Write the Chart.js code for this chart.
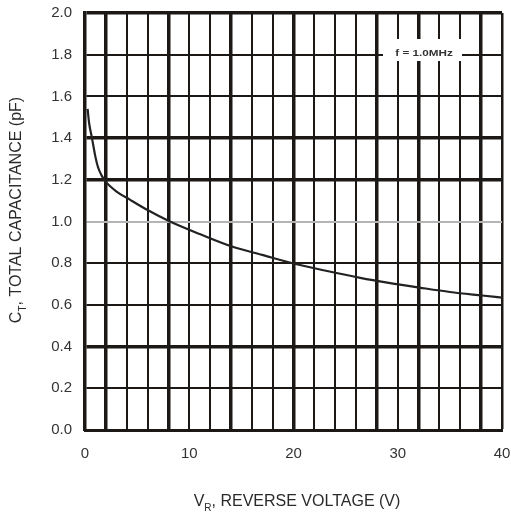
<!DOCTYPE html>
<html>
<head>
<meta charset="utf-8">
<script src="https://cdn.jsdelivr.net/npm/chart.js@4/dist/chart.umd.min.js"></script>
<style>
  html, body { margin: 0; padding: 0; background: #fff; }
  #wrap { width: 511px; height: 515px; position: relative; }
</style>
</head>
<body>
<div id="wrap"><canvas id="cap-chart"></canvas></div>
<script>
// reverse voltage (V) and total capacitance (pF)
const voltage = [0.25, 0.4, 0.67, 1.0, 1.25, 1.6, 2, 3, 4.3, 6, 8.15, 11, 14.1, 17, 19.9, 23, 26.4, 29, 32.1, 35, 38.1, 40];
const capacitance = [1.54, 1.47, 1.40, 1.31, 1.26, 1.22, 1.19, 1.145, 1.105, 1.055, 1.0, 0.94, 0.88, 0.84, 0.80, 0.765, 0.73, 0.707, 0.683, 0.662, 0.645, 0.635];

const xLabels = [0, 10, 20, 30, 40];
const xHeavy = [2, 8, 14, 20, 28, 32, 38];
const yHeavy = [2.0, 1.4, 1.2, 0.4];
const yGray = 1.0;
const noteText = "f = 1.0MHz";

const INK = "#1c1816";
const FONT = "'Liberation Sans', Arial, sans-serif";

function drawSub(ctx, parts) {
  // parts: [text, isSub]
  let w = 0;
  parts.forEach(([t, sub]) => {
    ctx.font = (sub ? "10px " : "16px ") + FONT;
    w += ctx.measureText(t).width;
  });
  let x = -w / 2;
  parts.forEach(([t, sub]) => {
    ctx.font = (sub ? "10px " : "16px ") + FONT;
    ctx.fillText(t, x, sub ? 6 : 0);
    x += ctx.measureText(t).width;
  });
}

const extras = {
  id: "extras",
  afterDatasetsDraw(chart) {
    const ctx = chart.ctx;
    ctx.save();
    // note box on the grid
    ctx.fillStyle = "#fff";
    ctx.fillRect(383, 39, 79, 22);
    ctx.fillStyle = "#333";
    ctx.textBaseline = "middle";
    ctx.textAlign = "center";
    ctx.translate(424, 54);
    ctx.scale(1.3, 1);
    ctx.font = "bold 9px " + FONT;
    ctx.fillText(noteText, 0, 0);
    ctx.restore();

    ctx.save();
    ctx.fillStyle = "#2a2a2a";
    ctx.textBaseline = "middle";
    ctx.textAlign = "left";
    ctx.translate(297, 502);
    drawSub(ctx, [["V", false], ["R", true], [", REVERSE VOLTAGE (V)", false]]);
    ctx.restore();

    ctx.save();
    ctx.fillStyle = "#2a2a2a";
    ctx.textBaseline = "middle";
    ctx.textAlign = "left";
    ctx.translate(17, 210);
    ctx.rotate(-Math.PI / 2);
    drawSub(ctx, [["C", false], ["T", true], [", TOTAL CAPACITANCE (pF)", false]]);
    ctx.restore();
  }
};

const r1 = (v) => Math.round(v * 10) / 10;

new Chart(document.getElementById("cap-chart"), {
  type: "line",
  data: {
    datasets: [{
      data: voltage.map((v, i) => ({ x: v, y: capacitance[i] })),
      borderColor: "#222",
      borderWidth: 2.2,
      pointRadius: 0,
      cubicInterpolationMode: "monotone",
      fill: false
    }]
  },
  options: {
    responsive: true,
    maintainAspectRatio: false,
    animation: false,
    layout: { padding: { left: 0, right: 9, top: 13, bottom: 0 } },
    plugins: { legend: { display: false }, tooltip: { enabled: false } },
    scales: {
      x: {
        type: "linear",
        min: 0, max: 40,
        afterFit: (s) => { s.height = 85; s.paddingLeft = 0; s.paddingRight = 0; },
        border: { display: true, color: INK, width: 3 },
        grid: {
          drawTicks: false,
          color: INK,
          lineWidth: (c) => {
            const v = c.tick ? c.tick.value : 0;
            if (xHeavy.includes(v)) return 3.5;
            if (v === 40) return 2.5;
            return 2;
          }
        },
        ticks: {
          stepSize: 2,
          autoSkip: false,
          maxRotation: 0,
          padding: 15,
          color: "#333",
          font: { family: FONT, size: 15 },
          callback: (v) => xLabels.includes(v) ? String(v) : ""
        }
      },
      y: {
        min: 0, max: 2,
        afterFit: (s) => { s.width = 85; s.paddingTop = 0; s.paddingBottom = 0; },
        border: { display: true, color: INK, width: 3.5 },
        grid: {
          drawTicks: false,
          color: (c) => {
            const v = c.tick ? r1(c.tick.value) : 0;
            return v === yGray ? "#b4b4b4" : INK;
          },
          lineWidth: (c) => {
            const v = c.tick ? r1(c.tick.value) : 0;
            if (yHeavy.includes(v)) return 3.5;
            if (v === yGray) return 2;
            return 2;
          }
        },
        ticks: {
          stepSize: 0.2,
          padding: 13,
          color: "#333",
          font: { family: FONT, size: 15 },
          callback: (v) => v.toFixed(1)
        }
      }
    }
  },
  plugins: [extras]
});
</script>
</body>
</html>
